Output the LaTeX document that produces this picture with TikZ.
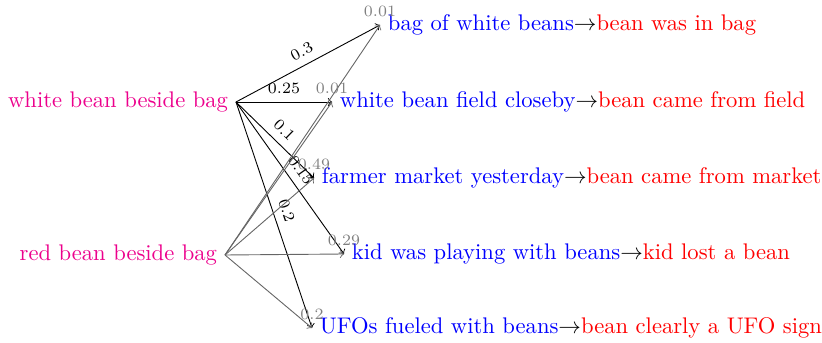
\documentclass[tikz,border=0pt]{standalone}
\usetikzlibrary{arrows}
\begin{document}
\begin{tikzpicture}[x=0.4425pt,y=-0.4425pt,
  obs/.style={text=magenta,anchor=east},
  hyp/.style={anchor=west},
  wline/.style={->,black},
  rline/.style={->,black!60},
  wlab/.style={font=\scriptsize,sloped,above,midway},
  plab/.style={font=\scriptsize,text=black!50,above}]
\useasboundingbox (0,0) rectangle (822,343);
\node[obs] (w) at (236,102) {white bean beside bag};
\node[obs] (r) at (225,255) {red bean beside bag};
\node[hyp] (h1) at (380,25) {{\color{blue}bag of white beans}$\to${\color{red}bean was in bag}};
\node[hyp] (h2) at (332,102) {{\color{blue}white bean field closeby}$\to${\color{red}bean came from field}};
\node[hyp] (h3) at (314,178) {{\color{blue}farmer market yesterday}$\to${\color{red}bean came from market}};
\node[hyp] (h4) at (344,254) {{\color{blue}kid was playing with beans}$\to${\color{red}kid lost a bean}};
\node[hyp] (h5) at (312,328) {{\color{blue}UFOs fueled with beans}$\to${\color{red}bean clearly a UFO sign}};
\draw[wline] (w.east) -- node[wlab] {0.3} (h1.west);
\draw[wline] (w.east) -- node[wlab] {0.25} (h2.west);
\draw[wline] (w.east) -- node[wlab] {0.1} (h3.west);
\draw[wline] (w.east) -- node[wlab] {0.15} (h4.west);
\draw[wline] (w.east) -- node[wlab] {0.2} (h5.west);
\draw[rline] (r.east) -- (h1.west) node[plab] {0.01};
\draw[rline] (r.east) -- (h2.west) node[plab] {0.01};
\draw[rline] (r.east) -- (h3.west) node[plab] {0.49};
\draw[rline] (r.east) -- (h4.west) node[plab] {0.29};
\draw[rline] (r.east) -- (h5.west) node[plab] {0.2};
\end{tikzpicture}
\end{document}
